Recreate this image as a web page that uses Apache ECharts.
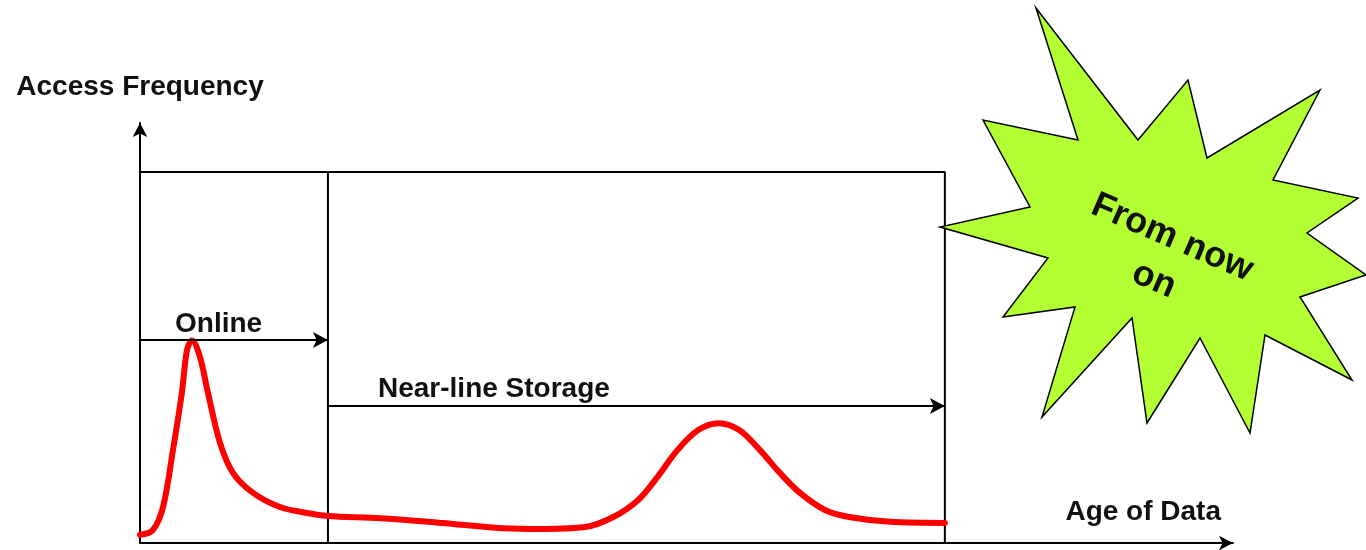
<!DOCTYPE html>
<html>
<head>
<meta charset="utf-8">
<script src="https://cdn.jsdelivr.net/npm/echarts@6/dist/echarts.min.js"></script>
<style>
html,body{margin:0;padding:0;background:#fff;}
#chart{width:1366px;height:550px;}
</style>
</head>
<body>
<div id="chart"></div>
<script>
// ---- data (chart units: storage box spans 0..100 on both axes) ----
const ageOfData = [0,1.6,2.86,4.1,5.2,5.84,6.46,7.45,8.45,9.94,11.55,14.04,17.39,20.75,23.35,29.9,37.5,45.1,50.2,55.3,58.8,61.9,64.3,66.8,69.4,71.9,74.4,77.0,79.5,82.0,85.1,88.1,93.2,100];
const accessFrequency = [2.2,3.5,9.7,25.1,40.4,52.0,54.6,50.1,40.4,27.0,18.9,13.5,9.7,8.1,7.3,6.7,5.4,4.0,3.8,4.3,7.0,11.6,17.8,25.1,30.5,32.3,30.5,25.1,18.9,13.5,8.9,7.0,5.7,5.4];
const onlineEnd = 23.35;      // boundary between online and near-line
const storageEnd = 100;       // end of near-line storage box
const boxTop = 100;
const onlineArrowLevel = 54.7;
const nearlineArrowLevel = 36.9;
const xAxisMax = 135.8;
const yAxisMax = 113.2;
const labels = {
  yName: 'Access Frequency',
  xName: 'Age of Data',
  online: 'Online',
  nearline: 'Near-line Storage',
  burst: 'From now\non'
};

const FONT = '"Liberation Sans", Arial, Helvetica, sans-serif';
const chart = echarts.init(document.getElementById('chart'), null, {renderer: 'canvas'});

const curve = ageOfData.map((x, i) => [x, accessFrequency[i]]);

chart.setOption({
  animation: false,
  backgroundColor: '#ffffff',
  grid: {left: 140, top: 123, right: 133, bottom: 7, containLabel: false},
  xAxis: {
    type: 'value', min: 0, max: xAxisMax,
    name: labels.xName, nameLocation: 'end', nameGap: -12,
    nameTextStyle: {fontFamily: FONT, fontWeight: 'bold', fontSize: 28, color: '#111', align: 'right', verticalAlign: 'bottom', padding: [0, 0, 17, 0]},
    axisLine: {show: true, lineStyle: {color: '#000', width: 2}, symbol: ['none', 'arrow'], symbolSize: [11, 14]},
    axisTick: {show: false}, axisLabel: {show: false}, splitLine: {show: false}
  },
  yAxis: {
    type: 'value', min: 0, max: yAxisMax,
    name: labels.yName, nameLocation: 'end', nameGap: 22,
    nameTextStyle: {fontFamily: FONT, fontWeight: 'bold', fontSize: 28, color: '#111', align: 'center', verticalAlign: 'bottom'},
    axisLine: {show: true, lineStyle: {color: '#000', width: 2}, symbol: ['none', 'arrow'], symbolSize: [11, 14]},
    axisTick: {show: false}, axisLabel: {show: false}, splitLine: {show: false}
  },
  series: [
    {
      name: 'box', type: 'line', silent: true, symbol: 'none',
      data: [[0, boxTop], [storageEnd, boxTop], [storageEnd, 0]],
      lineStyle: {color: '#000', width: 2}, z: 2
    },
    {
      name: 'divider', type: 'line', silent: true, symbol: 'none',
      data: [[onlineEnd, 0], [onlineEnd, boxTop]],
      lineStyle: {color: '#000', width: 2}, z: 2,
      markLine: {
        silent: true, symbol: ['none', 'arrow'], symbolSize: [12, 15],
        lineStyle: {color: '#000', width: 2, type: 'solid'},
        label: {show: false},
        data: [
          [{coord: [0, onlineArrowLevel]}, {coord: [onlineEnd, onlineArrowLevel]}],
          [{coord: [onlineEnd, nearlineArrowLevel]}, {coord: [storageEnd, nearlineArrowLevel]}]
        ]
      }
    },
    {
      name: 'Access Frequency', type: 'line', smooth: 0.35, symbol: 'none',
      data: curve,
      lineStyle: {color: '#ff0000', width: 6, cap: 'round', join: 'round'}, z: 3
    }
  ],
  graphic: [
    {type: 'text', x: 175, y: 324, z: 10,
      style: {text: labels.online, font: 'bold 28px ' + FONT, fill: '#111', align: 'left', verticalAlign: 'middle'}},
    {type: 'text', x: 378, y: 389, z: 10,
      style: {text: labels.nearline, font: 'bold 28px ' + FONT, fill: '#111', align: 'left', verticalAlign: 'middle'}},
    {type: 'polygon', z: 20,
      shape: {points: [[1036,8],[1138,140],[1188,80],[1207,158],[1320,90],[1273,180],[1358,198],[1307,233],[1366,275],[1300,297],[1352,380],[1265,335],[1250,433],[1200,338],[1147,423],[1132,318],[1042,417],[1075,307],[1003,317],[1048,258],[940,227],[1030,207],[983,120],[1078,140]]},
      style: {fill: '#b3ff33', stroke: '#000', lineWidth: 1.5}},
    {type: 'text', x: 1163, y: 259, rotation: -0.41, z: 21,
      style: {text: labels.burst, font: 'bold 36px ' + FONT, fill: '#111', align: 'center', verticalAlign: 'middle', lineHeight: 46}}
  ]
});
</script>
</body>
</html>
